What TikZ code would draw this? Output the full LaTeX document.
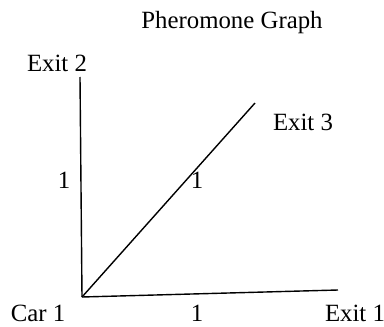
\documentclass[tikz,border=0pt]{standalone}
\usepackage{fontspec}
\setmainfont{Liberation Serif}
\usetikzlibrary{positioning}

\begin{document}
\begin{tikzpicture}[x=1pt, y=-1pt, every node/.style={font=\fontsize{24.8}{29}\selectfont, inner sep=0pt}, edge/.style={line width=1.4pt}]
\useasboundingbox (0,0) rectangle (384,327);
\node (title) at (232,23) {Pheromone Graph};
% graph ends
\coordinate (car) at (82,297);
\coordinate (e1) at (338,290);
\coordinate (e2) at (80,77);
\coordinate (e3) at (255,103);
\draw[edge] (car) -- (e1);
\draw[edge] (car) -- (e2);
\draw[edge] (car) -- (e3);
% labels
\node (carlbl) at (38,313) {Car 1};
\node (e1lbl) at (355,313) {Exit 1};
\node (e2lbl) at (57,63) {Exit 2};
\node (e3lbl) at (303,122) {Exit 3};
\node (w1) at (197,313) {1};
\node (w2) at (64,180) {1};
\node (w3) at (197,180) {1};
\end{tikzpicture}
\end{document}
